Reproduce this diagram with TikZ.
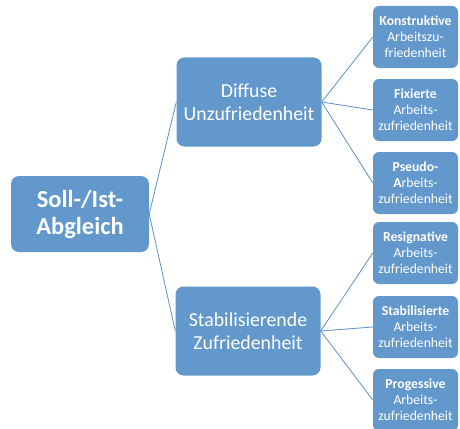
\documentclass[tikz,border=0pt]{standalone}
\usepackage{fontspec}
\setmainfont{Carlito}
\usetikzlibrary{positioning}
\definecolor{boxblue}{HTML}{6398CD}
\definecolor{lineblue}{HTML}{5B8FC8}
\tikzset{
  bx/.style={fill=boxblue,text=white,rounded corners=8pt,align=center,inner sep=0pt},
  rootbox/.style={bx,minimum width=138pt,minimum height=76pt,font=\fontsize{24.5}{27}\selectfont\bfseries},
  midbox/.style={bx,minimum width=145pt,minimum height=89pt,font=\fontsize{19.8}{23.5}\selectfont},
  leafbox/.style={bx,rounded corners=6pt,minimum width=85pt,minimum height=62pt,font=\fontsize{13.7}{16}\selectfont},
  ln/.style={lineblue,line width=0.8pt}
}

\begin{document}
\begin{tikzpicture}[x=1pt,y=-1pt]
\useasboundingbox (0,0) rectangle (460,428);
\node[rootbox] (abgleich) at (80,214) {Soll-/Ist-\\Abgleich};
\node[midbox] (diffus) at (249,102) {Diffuse\\Unzufriedenheit};
\node[midbox] (stabil) at (248,331) {Stabilisierende\\Zufriedenheit};
\node[leafbox] (konstr) at (415.5,37) {\textbf{Konstruktive}\\Arbeitszu-\\friedenheit};
\node[leafbox] (fix) at (415.5,110) {\textbf{Fixierte}\\Arbeits-\\zufriedenheit};
\node[leafbox] (pseudo) at (415.5,183) {\textbf{Pseudo-}\\\textbf{A}rbeits-\\zufriedenheit};
\node[leafbox] (resig) at (415.5,253) {\textbf{Resignative}\\Arbeits-\\zufriedenheit};
\node[leafbox] (stabsiert) at (415.5,327) {\textbf{Stabilisierte}\\Arbeits-\\zufriedenheit};
\node[leafbox] (progr) at (415.5,400) {\textbf{Progessive}\\Arbeits-\\zufriedenheit};
\draw[ln] (abgleich.east) -- (diffus.west);
\draw[ln] (abgleich.east) -- (stabil.west);
\draw[ln] (diffus.east) -- (konstr.west);
\draw[ln] (diffus.east) -- (fix.west);
\draw[ln] (diffus.east) -- (pseudo.west);
\draw[ln] (stabil.east) -- (resig.west);
\draw[ln] (stabil.east) -- (stabsiert.west);
\draw[ln] (stabil.east) -- (progr.west);
\end{tikzpicture}
\end{document}
